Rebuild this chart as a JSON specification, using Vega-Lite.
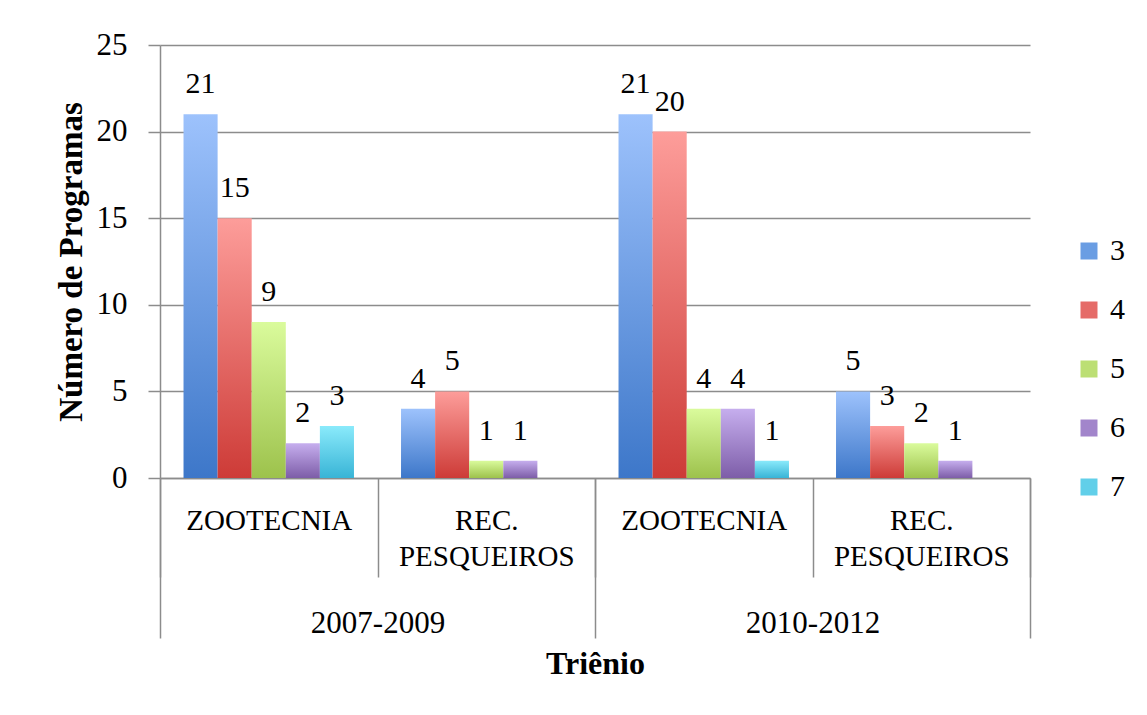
{
  "$schema": "https://vega.github.io/schema/vega-lite/v6.json",
  "width": 870,
  "height": 433,
  "autosize": "none",
  "padding": {"left": 160, "top": 45, "right": 117, "bottom": 237},
  "background": "white",
  "config": {
    "view": {"stroke": null},
    "font": "Liberation Serif",
    "axis": {"labelColor": "black", "titleColor": "black", "labelFont": "Liberation Serif", "titleFont": "Liberation Serif"}
  },
  "data": {
    "values": [
      {"grupo": "2007-2009 ZOOTECNIA", "serie": 3, "valor": 21},
      {"grupo": "2007-2009 ZOOTECNIA", "serie": 4, "valor": 15},
      {"grupo": "2007-2009 ZOOTECNIA", "serie": 5, "valor": 9},
      {"grupo": "2007-2009 ZOOTECNIA", "serie": 6, "valor": 2},
      {"grupo": "2007-2009 ZOOTECNIA", "serie": 7, "valor": 3},
      {"grupo": "2007-2009 REC. PESQUEIROS", "serie": 3, "valor": 4},
      {"grupo": "2007-2009 REC. PESQUEIROS", "serie": 4, "valor": 5},
      {"grupo": "2007-2009 REC. PESQUEIROS", "serie": 5, "valor": 1},
      {"grupo": "2007-2009 REC. PESQUEIROS", "serie": 6, "valor": 1},
      {"grupo": "2010-2012 ZOOTECNIA", "serie": 3, "valor": 21},
      {"grupo": "2010-2012 ZOOTECNIA", "serie": 4, "valor": 20},
      {"grupo": "2010-2012 ZOOTECNIA", "serie": 5, "valor": 4},
      {"grupo": "2010-2012 ZOOTECNIA", "serie": 6, "valor": 4},
      {"grupo": "2010-2012 ZOOTECNIA", "serie": 7, "valor": 1},
      {"grupo": "2010-2012 REC. PESQUEIROS", "serie": 3, "valor": 5},
      {"grupo": "2010-2012 REC. PESQUEIROS", "serie": 4, "valor": 3},
      {"grupo": "2010-2012 REC. PESQUEIROS", "serie": 5, "valor": 2},
      {"grupo": "2010-2012 REC. PESQUEIROS", "serie": 6, "valor": 1}
    ]
  },
  "layer": [
    {
      "encoding": {
        "x": {
          "field": "grupo",
          "type": "nominal",
          "sort": ["2007-2009 ZOOTECNIA", "2007-2009 REC. PESQUEIROS", "2010-2012 ZOOTECNIA", "2010-2012 REC. PESQUEIROS"],
          "scale": {"paddingInner": 0, "paddingOuter": 0},
          "axis": {
            "title": null,
            "orient": "bottom",
            "labelExpr": "(datum.extra || datum.label === '') ? '' : (test(/ZOOTECNIA/, datum.value) ? 'ZOOTECNIA' : ['REC.', 'PESQUEIROS'])",
            "labelAngle": 0,
            "labelFontSize": 29,
            "labelBaseline": "alphabetic",
            "labelLineHeight": 36,
            "labelPadding": -48,
            "tickBand": "extent",
            "tickSize": 99,
            "tickColor": "#8c8c8c",
            "tickWidth": 1.5,
            "domainColor": "#8c8c8c",
            "domainWidth": 1.5,
            "grid": false
          }
        },
        "xOffset": {
          "field": "serie",
          "type": "nominal",
          "scale": {"domain": [3, 4, 5, 6, 7], "paddingInner": 0, "paddingOuter": 0.69}
        },
        "y": {
          "field": "valor",
          "type": "quantitative",
          "scale": {"domain": [0, 25]},
          "axis": {
            "title": "Número de Programas",
            "titleFontSize": 33,
            "titleFontWeight": "bold",
            "titlePadding": 8,
            "values": [0, 5, 10, 15, 20, 25],
            "labelFontSize": 31,
            "labelPadding": 21,
            "tickSize": 12,
            "tickColor": "#8c8c8c",
            "tickWidth": 1.5,
            "domainColor": "#8c8c8c",
            "domainWidth": 1.5,
            "gridColor": "#8c8c8c",
            "gridWidth": 1.5
          }
        }
      },
      "layer": [
        {
          "mark": {"type": "bar"},
          "encoding": {
            "fill": {
              "condition": [
                {"test": "datum.serie == 3", "value": {"gradient": "linear", "x1": 0, "y1": 0, "x2": 0, "y2": 1, "stops": [{"offset": 0, "color": "#9dc2fc"}, {"offset": 1, "color": "#3d77c9"}]}},
                {"test": "datum.serie == 4", "value": {"gradient": "linear", "x1": 0, "y1": 0, "x2": 0, "y2": 1, "stops": [{"offset": 0, "color": "#fd9d9a"}, {"offset": 1, "color": "#cd3b37"}]}},
                {"test": "datum.serie == 5", "value": {"gradient": "linear", "x1": 0, "y1": 0, "x2": 0, "y2": 1, "stops": [{"offset": 0, "color": "#dafb9c"}, {"offset": 1, "color": "#9dc24c"}]}},
                {"test": "datum.serie == 6", "value": {"gradient": "linear", "x1": 0, "y1": 0, "x2": 0, "y2": 1, "stops": [{"offset": 0, "color": "#c6aeee"}, {"offset": 1, "color": "#7d5da8"}]}},
                {"test": "datum.serie == 7", "value": {"gradient": "linear", "x1": 0, "y1": 0, "x2": 0, "y2": 1, "stops": [{"offset": 0, "color": "#8aeafb"}, {"offset": 1, "color": "#38b4d6"}]}}
              ],
              "field": "serie",
              "type": "nominal",
              "scale": {
                "domain": [3, 4, 5, 6, 7],
                "range": ["#6a9de3", "#e56b68", "#bcdf74", "#a285cb", "#61cfe9"]
              },
              "legend": {
                "title": null,
                "orient": "none",
                "legendX": 914,
                "legendY": 191,
                "padding": 0,
                "symbolType": "square",
                "symbolSize": 289,
                "symbolStrokeWidth": 0,
                "labelFontSize": 30,
                "labelColor": "black",
                "labelFont": "Liberation Serif",
                "labelOffset": 6,
                "rowPadding": 29
              }
            }
          }
        },
        {
          "mark": {"type": "text", "baseline": "alphabetic", "dy": -21, "fontSize": 30, "color": "black"},
          "encoding": {"text": {"field": "valor", "type": "quantitative"}}
        }
      ]
    },
    {
      "data": {"values": [{"trienio": "2007-2009"}, {"trienio": "2010-2012"}]},
      "mark": {"type": "tick", "opacity": 0},
      "encoding": {
        "x": {
          "field": "trienio",
          "type": "nominal",
          "scale": {"paddingInner": 0, "paddingOuter": 0},
          "axis": {
            "orient": "bottom",
            "title": "Triênio",
            "titleFontSize": 32,
            "titleFontWeight": "bold",
            "titlePadding": 10,
            "labelAngle": 0,
            "labelFontSize": 31,
            "labelBaseline": "alphabetic",
            "labelPadding": -6,
            "tickBand": "extent",
            "tickSize": 160,
            "tickColor": "#8c8c8c",
            "tickWidth": 1.5,
            "domain": false,
            "grid": false
          }
        }
      }
    }
  ],
  "resolve": {"scale": {"x": "independent"}}
}
